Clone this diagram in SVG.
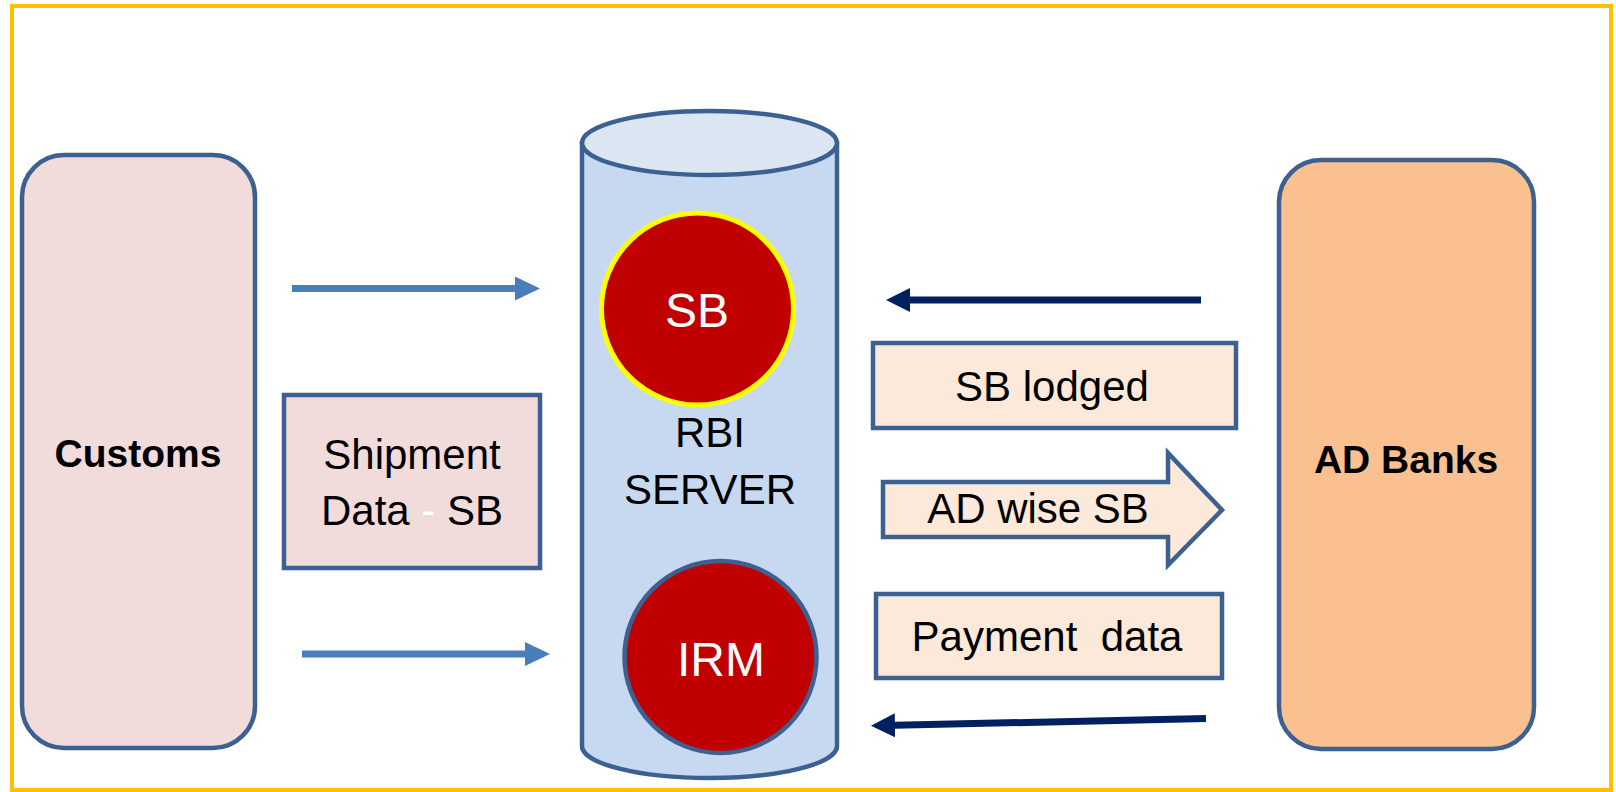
<svg xmlns="http://www.w3.org/2000/svg" width="1616" height="792" viewBox="0 0 1616 792">
<style>
text{font-family:"Liberation Sans",Arial,sans-serif;}
.ent{stroke:#3C6090;stroke-width:4.5;}
.lbl{fill:#FDE9D9;stroke:#3C6090;stroke-width:4.5;}
.t{font-size:42px;fill:#000;text-anchor:middle;}
.b{font-size:39px;font-weight:bold;fill:#000;text-anchor:middle;}
.w{font-size:48px;fill:#fff;text-anchor:middle;}
.blue{stroke:#4A7EBB;stroke-width:7;fill:none;}
.navy{stroke:#002060;stroke-width:7;fill:none;}
</style>
<defs>
<marker id="hb" markerUnits="userSpaceOnUse" viewBox="0 0 25 24" markerWidth="25" markerHeight="24" refX="0" refY="12" orient="auto"><path d="M0,0 L25,12 L0,24 z" fill="#4A7EBB"/></marker>
<marker id="hn" markerUnits="userSpaceOnUse" viewBox="0 0 24 24" markerWidth="24" markerHeight="24" refX="0" refY="12" orient="auto"><path d="M0,0 L24,12 L0,24 z" fill="#002060"/></marker>
</defs>
<rect x="0" y="0" width="1616" height="792" fill="#fff"/>
<rect id="frame" x="12" y="6" width="1599" height="784" fill="none" stroke="#FFC000" stroke-width="4"/>
<g id="customs">
<rect class="ent" x="22" y="155" width="233" height="593" rx="42" fill="#F2DCDB"/>
<text class="b" x="138" y="467">Customs</text>
</g>
<g id="adbanks">
<rect class="ent" x="1279" y="160" width="255" height="589" rx="42" fill="#FAC090"/>
<text class="b" x="1406" y="473">AD Banks</text>
</g>
<g id="shipment">
<rect class="ent" x="284" y="395" width="256" height="173" fill="#F2DCDB"/>
<text class="t" x="412" y="469" font-size="45">Shipment</text>
<text class="t" x="412" y="525">Data <tspan fill="#fff">-</tspan> SB</text>
</g>
<g id="rbi">
<path class="ent" d="M582,143 L582,746 A127.5,32 0 0 0 837,746 L837,143 Z" fill="#C6D9F1"/>
<ellipse class="ent" cx="709.5" cy="143" rx="127.5" ry="32" fill="#DCE6F2"/>
<text class="t" x="710" y="447" font-size="38">RBI</text>
<text class="t" x="710" y="504" font-size="35">SERVER</text>
</g>
<g id="sb">
<circle cx="697.5" cy="309" r="96" fill="#C00000" stroke="#FFFF00" stroke-width="5"/>
<text class="w" x="697" y="327">SB</text>
</g>
<g id="irm">
<circle cx="720.5" cy="657" r="96" fill="#C00000" stroke="#3C6090" stroke-width="4.5"/>
<text class="w" x="721" y="676" font-size="52">IRM</text>
</g>
<g id="sblodged">
<rect class="lbl" x="873" y="343" width="363" height="85"/>
<text class="t" x="1052" y="401">SB lodged</text>
</g>
<g id="adwise">
<path class="lbl" d="M883,482 L1168,482 L1168,453 L1222,510 L1168,565 L1168,537 L883,537 Z"/>
<text class="t" x="1038" y="523">AD wise SB</text>
</g>
<g id="payment">
<rect class="lbl" x="876" y="594" width="346" height="84"/>
<text class="t" x="1047" y="651" font-size="43" xml:space="preserve">Payment  data</text>
</g>
<g id="connectors">
<line class="blue" x1="292" y1="288.5" x2="515" y2="288.5" marker-end="url(#hb)"/>
<line class="blue" x1="302" y1="654" x2="525" y2="654" marker-end="url(#hb)"/>
<line class="navy" x1="1201" y1="300" x2="910" y2="300" marker-end="url(#hn)"/>
<line class="navy" x1="1206" y1="718.5" x2="895" y2="725.3" marker-end="url(#hn)"/>
</g>
</svg>
